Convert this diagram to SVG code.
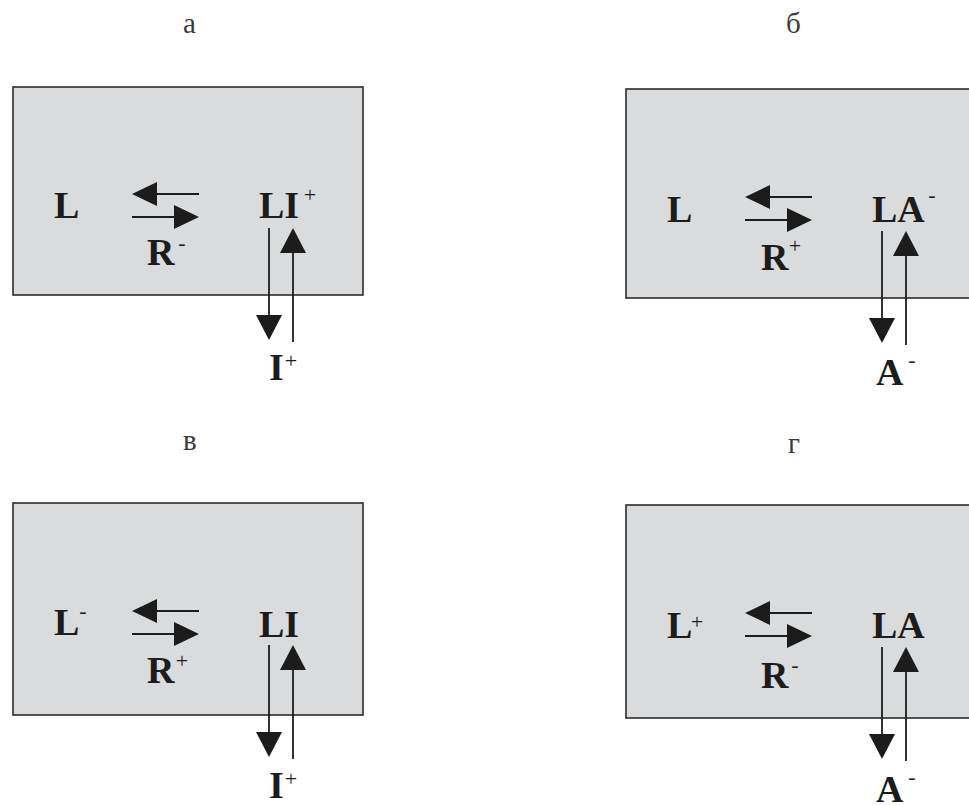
<svg xmlns="http://www.w3.org/2000/svg" width="969" height="805" viewBox="0 0 969 805">
  <defs>
    <style>
      .box { fill: #dadbdc; stroke: #2b2b2b; stroke-width: 1.6; }
      .sym { font-family: "Liberation Serif", "Times New Roman", serif; font-weight: bold; font-size: 38px; fill: #1c1c1c; }
      .sup { font-family: "Liberation Serif", "Times New Roman", serif; font-size: 22px; fill: #1c1c1c; text-anchor: middle; }
      .cap { font-family: "Liberation Serif", "Times New Roman", serif; font-size: 29px; fill: #3a3a3a; }
      .ln { stroke: #1c1c1c; stroke-width: 1.8; fill: none; }
      .hd { fill: #1c1c1c; }
    </style>
    <!-- shared arrow set: equilibrium arrows plus exchange arrows -->
    <g id="arrows">
      <line class="ln" x1="199" y1="194" x2="154" y2="194"/>
      <polygon class="hd" points="132,194 157,182 157,206"/>
      <line class="ln" x1="132" y1="217" x2="177" y2="217"/>
      <polygon class="hd" points="199,217 174,205 174,229"/>
      <line class="ln" x1="269" y1="228" x2="269" y2="318"/>
      <polygon class="hd" points="256,315 282,315 269,340"/>
      <line class="ln" x1="293" y1="342" x2="293" y2="250"/>
      <polygon class="hd" points="293,228 280,253 306,253"/>
    </g>
  </defs>

  <rect width="969" height="805" fill="#ffffff"/>

  <!-- panel captions -->
  <text class="cap" x="183" y="33">а</text>
  <text class="cap" x="786" y="33">б</text>
  <text class="cap" x="183" y="450">в</text>
  <text class="cap" x="788" y="453">г</text>

  <!-- panel а -->
  <g id="panel-a">
    <rect class="box" x="13" y="87" width="350" height="208"/>
    <g id="a-L"><text class="sym" x="54" y="218">L</text></g>
    <g id="a-R"><text class="sym" x="147" y="265">R</text><text class="sup" x="182" y="250">-</text></g>
    <g id="a-LI"><text class="sym" x="259" y="218">LI</text><text class="sup" x="310" y="202">+</text></g>
    <g id="a-I"><text class="sym" x="269" y="380">I</text><text class="sup" x="291" y="368">+</text></g>
    <g id="a-connectors"><use href="#arrows"/></g>
  </g>

  <!-- panel б -->
  <g id="panel-b" transform="translate(613,3)">
    <rect class="box" x="13" y="86" width="360" height="209"/>
    <g id="b-L"><text class="sym" x="54" y="219">L</text></g>
    <g id="b-R"><text class="sym" x="148" y="267">R</text><text class="sup" x="182" y="250">+</text></g>
    <g id="b-LA"><text class="sym" x="259" y="219">LA</text><text class="sup" x="319" y="199">-</text></g>
    <g id="b-A"><text class="sym" x="263" y="382">A</text><text class="sup" x="299" y="364">-</text></g>
    <g id="b-connectors"><use href="#arrows"/></g>
  </g>

  <!-- panel в -->
  <g id="panel-v" transform="translate(0,417)">
    <rect class="box" x="13" y="86" width="350" height="212"/>
    <g id="v-L"><text class="sym" x="54" y="218">L</text><text class="sup" x="83" y="201">-</text></g>
    <g id="v-R"><text class="sym" x="147" y="266">R</text><text class="sup" x="182" y="251">+</text></g>
    <g id="v-LI"><text class="sym" x="259" y="220">LI</text></g>
    <g id="v-I"><text class="sym" x="269" y="381">I</text><text class="sup" x="291" y="369">+</text></g>
    <g id="v-connectors"><use href="#arrows"/></g>
  </g>

  <!-- panel г -->
  <g id="panel-g" transform="translate(613,419)">
    <rect class="box" x="13" y="86" width="360" height="213"/>
    <g id="g-L"><text class="sym" x="54" y="219">L</text><text class="sup" x="84" y="210">+</text></g>
    <g id="g-R"><text class="sym" x="148" y="269">R</text><text class="sup" x="182" y="253">-</text></g>
    <g id="g-LA"><text class="sym" x="259" y="219">LA</text></g>
    <g id="g-A"><text class="sym" x="263" y="383">A</text><text class="sup" x="299" y="365">-</text></g>
    <g id="g-connectors"><use href="#arrows"/></g>
  </g>
</svg>
